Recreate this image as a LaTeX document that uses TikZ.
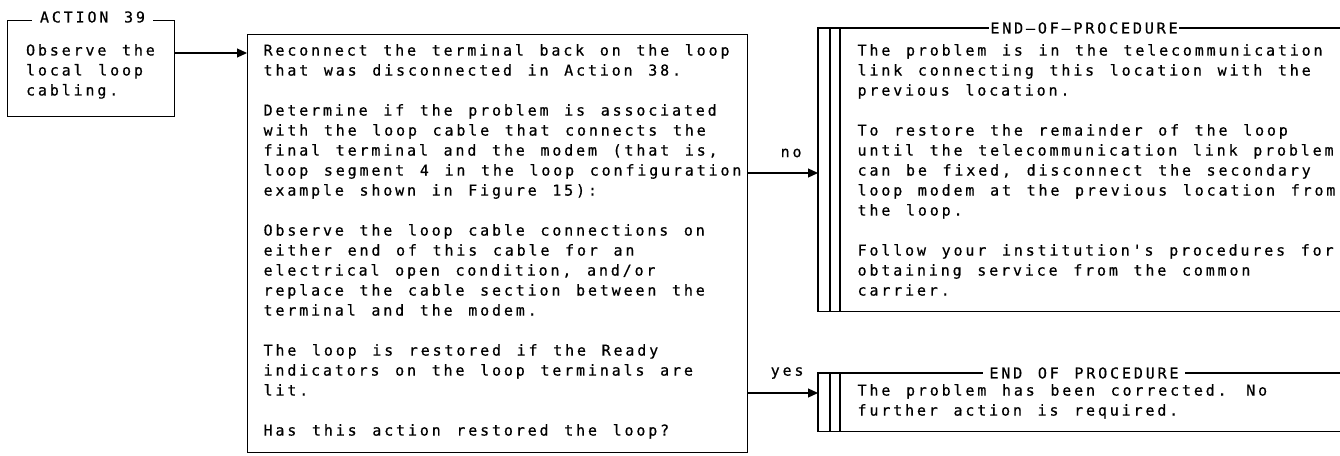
\documentclass[tikz,border=0pt]{standalone}
\usepackage{fontspec}
\usepackage{tikz}
\usetikzlibrary{arrows.meta}
\newfontfamily\ibmfont[LetterSpace=19,WordSpace={1.316,0,0},FakeBold=0.6,Ligatures=TeXOff]{DejaVu Sans Mono}

\begin{document}
\begin{tikzpicture}[x=1pt,y=-1pt,
    line width=1.2pt,
    every node/.style={font=\ibmfont\fontsize{15}{20}\selectfont},
    box/.style={draw,anchor=north west,inner sep=0,minimum width=#1},
    txt/.style={align=left,anchor=north west,inner sep=0,execute at begin node=\strut},
    ttl/.style={fill=white,inner ysep=1pt,inner xsep=#1},
    arr/.style={-{Triangle[length=10pt,width=9pt]}}]
  \useasboundingbox (0,0) rectangle (1340,455);

  % action box
  \node[box=167,minimum height=96] (actbox) at (7,20) {};
  \node[ttl=8pt,yshift=3pt] (actlabel) at (92.5,20) {ACTION 39};
  \node[txt] (acttext) at (25.5,43.5) {Observe the\\local loop\\cabling.};

  % main question box
  \node[box=500,minimum height=418] (mainbox) at (247,34) {};
  \node[txt] (maintext) at (263,43.5) {Reconnect the terminal back on the loop\\
that was disconnected in Action 38.\\[20pt]
Determine if the problem is associated\\
with the loop cable that connects the\\
final terminal and the modem (that is,\\
loop segment 4 in the loop configuration\\
example shown in Figure 15):\\[20pt]
Observe the loop cable connections on\\
either end of this cable for an\\
electrical open condition, and/or\\
replace the cable section between the\\
terminal and the modem.\\[20pt]
The loop is restored if the Ready\\
indicators on the loop terminals are\\
lit.\\[20pt]
Has this action restored the loop?};

  % end boxes, open on the right
  \node[anchor=north west,inner sep=0,minimum width=522,minimum height=282] (enda) at (818,28) {};
  \node[anchor=north west,inner sep=0,minimum width=522,minimum height=57] (endb) at (818,373) {};
  \foreach \e in {enda,endb} {
    \draw (\e.north east) -- (\e.north west) -- (\e.south west) -- (\e.south east);
    \draw ([xshift=12pt]\e.north west) -- ([xshift=12pt]\e.south west);
    \draw ([xshift=22pt]\e.north west) -- ([xshift=22pt]\e.south west);
  }
  \node[ttl=1pt] (endatitle) at (1084,28) {END–OF–PROCEDURE};
  \node[ttl=6pt] (endbtitle) at (1084,373) {END OF PROCEDURE};
  \node[txt] (endatext) at (857,43.5) {The problem is in the telecommunication\\
link connecting this location with the\\
previous location.\\[20pt]
To restore the remainder of the loop\\
until the telecommunication link problem\\
can be fixed, disconnect the secondary\\
loop modem at the previous location from\\
the loop.\\[20pt]
Follow your institution's procedures for\\
obtaining service from the common\\
carrier.};
  \node[txt] (endbtext) at (857,383.5) {The problem has been corrected.  No\\
further action is required.};

  % connectors
  \coordinate (rowact) at (0,53);
  \coordinate (rowno) at (0,173);
  \coordinate (rowyes) at (0,393);
  \draw[arr] (actbox.east |- rowact) -- (mainbox.west |- rowact);
  \draw[arr] (mainbox.east |- rowno) -- (enda.west |- rowno)
    node[midway,xshift=8pt,yshift=20pt] (nolabel) {no};
  \draw[arr] (mainbox.east |- rowyes) -- (endb.west |- rowyes)
    node[midway,xshift=4pt,yshift=20pt] (yeslabel) {yes};
\end{tikzpicture}
\end{document}
